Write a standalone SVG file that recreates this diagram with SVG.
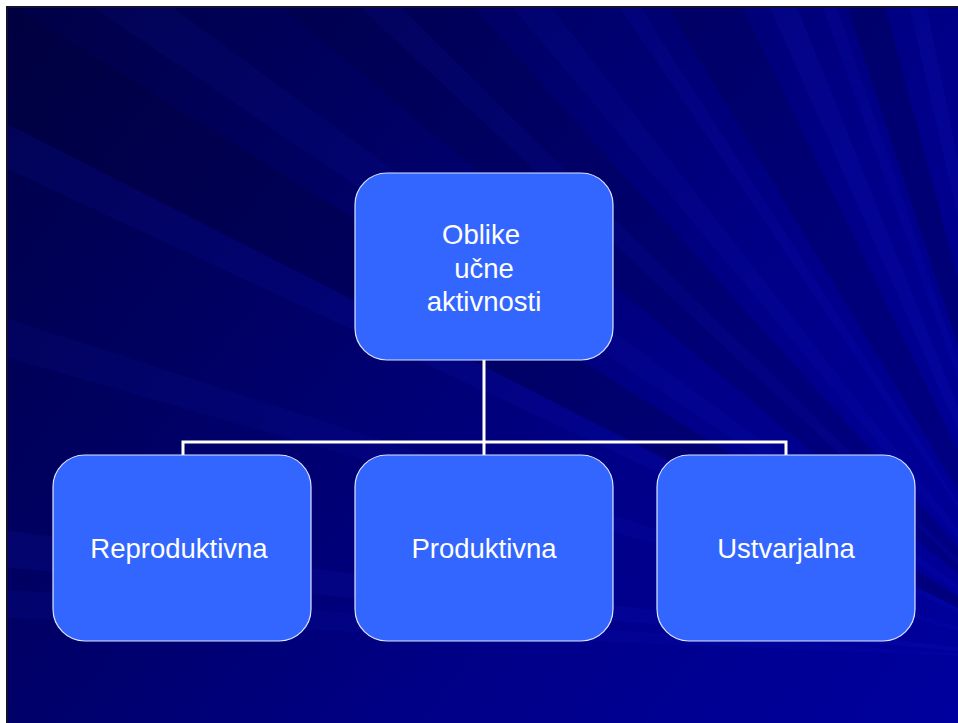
<svg xmlns="http://www.w3.org/2000/svg" width="958" height="723" viewBox="0 0 958 723">
  <defs>
    <linearGradient id="bg" x1="0" y1="0" x2="958" y2="723" gradientUnits="userSpaceOnUse">
      <stop offset="0" stop-color="#000045"/>
      <stop offset="0.3" stop-color="#000062"/>
      <stop offset="0.65" stop-color="#000088"/>
      <stop offset="1" stop-color="#00009e"/>
    </linearGradient>
    <clipPath id="slide"><rect x="8" y="8" width="950" height="715"/></clipPath>
  </defs>
  <style>
    .box { fill: #3366ff; stroke: #dde4ff; stroke-width: 1.2; }
    .lbl { font-family: "Liberation Sans", Arial, sans-serif; font-size: 27.5px; fill: #ffffff; text-anchor: middle; }
    .conn { fill: none; stroke: #ffffff; stroke-width: 3; }
    .lt { fill: #2030ff; }
    .dk { fill: #000030; }
  </style>
  <rect x="0" y="0" width="958" height="723" fill="#ffffff"/>
  <rect x="6" y="6" width="952" height="717" fill="#101030"/>
  <rect x="8" y="8" width="950" height="715" fill="url(#bg)"/>
  <g id="rays" clip-path="url(#slide)">
    <polygon class="dk" opacity="0.25" points="1060,660 -277,-21 -212,-135"/>
    <polygon class="dk" opacity="0.2" points="1060,660 -89,-304 57,-455"/>
    <polygon class="dk" opacity="0.2" points="1060,660 287,-626 403,-689"/>
    <polygon class="dk" opacity="0.25" points="1060,660 596,-767 672,-789"/>
    <polygon class="lt" opacity="0.06" points="1060,660 -382,246 -367,197"/>
    <polygon class="lt" opacity="0.07" points="1060,660 -299,26 -277,-21"/>
    <polygon class="lt" opacity="0.06" points="1060,660 -184,-179 -150,-230"/>
    <polygon class="lt" opacity="0.07" points="1060,660 -37,-363 -10,-400"/>
    <polygon class="lt" opacity="0.06" points="1060,660 96,-489 140,-520"/>
    <polygon class="lt" opacity="0.07" points="1060,660 221,-584 250,-600"/>
    <polygon class="lt" opacity="0.08" points="1060,660 450,-711 500,-730"/>
    <polygon class="lt" opacity="0.07" points="1060,660 547,-750 575,-760"/>
    <polygon class="lt" opacity="0.08" points="1060,660 723,-801 760,-810"/>
    <polygon class="lt" opacity="0.08" points="1060,660 -434,529 -429,477"/>
    <polygon class="lt" opacity="0.06" points="1060,660 -440,600 -436,560"/>
  </g>
  <g id="connectors">
    <path class="conn" d="M484,360 V442 M183,455 V442 H786 V455 M484,442 V455"/>
  </g>
  <g id="n-top">
    <rect class="box" x="355" y="173" width="258" height="187" rx="32"/>
    <text class="lbl" x="481" y="244">Oblike</text>
    <text class="lbl" x="484" y="278">učne</text>
    <text class="lbl" x="484" y="311">aktivnosti</text>
  </g>
  <g id="n-reproduktivna">
    <rect class="box" x="53" y="455" width="258" height="186" rx="32"/>
    <text class="lbl" x="179" y="558">Reproduktivna</text>
  </g>
  <g id="n-produktivna">
    <rect class="box" x="355" y="455" width="258" height="186" rx="32"/>
    <text class="lbl" x="484" y="558">Produktivna</text>
  </g>
  <g id="n-ustvarjalna">
    <rect class="box" x="657" y="455" width="258" height="186" rx="32"/>
    <text class="lbl" x="786" y="558">Ustvarjalna</text>
  </g>
</svg>
